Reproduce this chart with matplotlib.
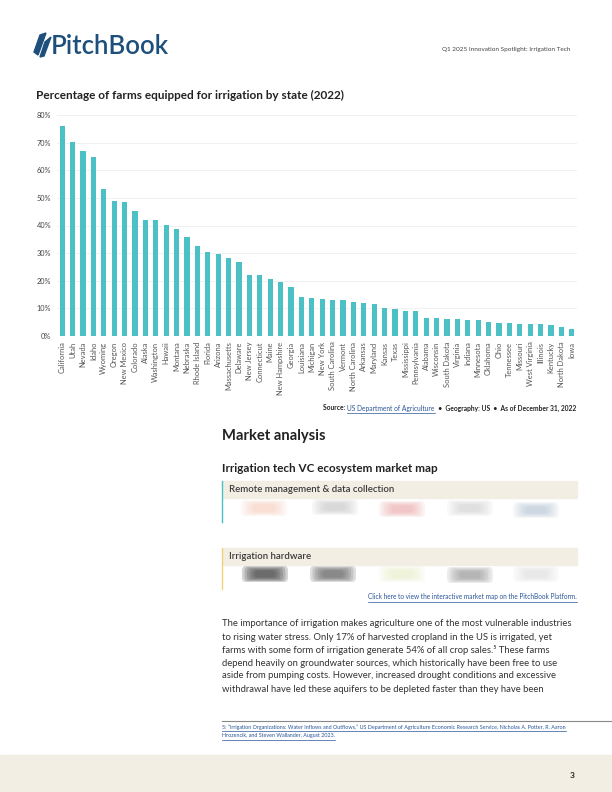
import matplotlib
matplotlib.use('Agg')
import matplotlib.pyplot as plt
from matplotlib.patches import Rectangle, Polygon, Ellipse, FancyBboxPatch
from matplotlib.lines import Line2D

plt.rcParams['font.family'] = ['Lato', 'DejaVu Sans']

# ---- data ----
states = ['California', 'Utah', 'Nevada', 'Idaho', 'Wyoming', 'Oregon', 'New Mexico',
          'Colorado', 'Alaska', 'Washington', 'Hawaii', 'Montana', 'Nebraska',
          'Rhode Island', 'Florida', 'Arizona', 'Massachusetts', 'Delaware',
          'New Jersey', 'Connecticut', 'Maine', 'New Hampshire', 'Georgia',
          'Louisiana', 'Michigan', 'New York', 'South Carolina', 'Vermont',
          'North Carolina', 'Arkansas', 'Maryland', 'Kansas', 'Texas', 'Mississippi',
          'Pennsylvania', 'Alabama', 'Wisconsin', 'South Dakota', 'Virginia',
          'Indiana', 'Minnesota', 'Oklahoma', 'Ohio', 'Tennessee', 'Missouri',
          'West Virginia', 'Illinois', 'Kentucky', 'North Dakota', 'Iowa']
pct_irrigated = [76.0, 70.3, 66.9, 64.8, 53.1, 48.9, 48.4, 45.1, 42.1, 42.1, 40.2, 38.8,
                 35.7, 32.7, 30.3, 29.8, 28.3, 26.7, 22.2, 22.1, 20.7, 19.4, 17.9,
                 14.1, 13.8, 13.3, 13.0, 13.0, 12.2, 12.1, 11.5, 10.1, 9.8, 8.9, 8.9,
                 6.6, 6.4, 6.2, 6.2, 5.8, 5.8, 5.0, 4.7, 4.7, 4.5, 4.2, 4.2, 4.0, 3.3, 2.4]
y_ticks = [0, 10, 20, 30, 40, 50, 60, 70, 80]

W, H = 612, 792
NAVY = '#1d4f7c'
TEAL = '#4cc1c5'
LINK = '#2a5599'
BEIGE = '#f2eee4'
TXT = '#333333'

fig = plt.figure(figsize=(W / 100, H / 100), dpi=100)


def fx(x):
    return x / W


def fy(y):
    return 1 - y / H


def txt(x, y, s, **kw):
    return fig.text(fx(x), fy(y), s, **kw)


# ---- header ----
txt(51, 46, 'PitchBook', fontsize=18.5, fontweight='semibold', color=NAVY, va='center', ha='left')
fig.patches.append(Polygon([(fx(34), fy(52)), (fx(40), fy(35)), (fx(46), fy(33)), (fx(38), fy(55))],
                           closed=True, color=NAVY, transform=fig.transFigure))
fig.patches.append(Polygon([(fx(40), fy(57)), (fx(45), fy(42)), (fx(51), fy(37)), (fx(44), fy(56))],
                           closed=True, color=NAVY, transform=fig.transFigure))
txt(570, 50, 'Q1 2025 Innovation Spotlight: Irrigation Tech', fontsize=4.6, color='#444444',
    ha='right', va='center')

txt(36, 95, 'Percentage of farms equipped for irrigation by state (2022)', fontsize=8.5,
    fontweight='bold', color='#222222', va='center')

# ---- chart ----
ax = fig.add_axes([fx(57), fy(336), fx(577) - fx(57), fy(115) - fy(336)])
xs = range(len(states))
ax.bar(xs, pct_irrigated, width=0.5, color=TEAL, zorder=2)
ax.set_xlim(-0.5, len(states) - 0.5)
ax.set_ylim(0, 80)
ax.set_yticks(y_ticks)
ax.set_yticklabels([f'{v}%' for v in y_ticks], fontsize=5.3, color='#444444')
ax.set_xticks(list(xs))
ax.set_xticklabels(states, rotation=90, fontsize=5.4, color='#555555')
ax.tick_params(length=0, pad=4)
ax.grid(axis='y', color='#eeeeee', linewidth=0.6, zorder=0)
for sp in ax.spines.values():
    sp.set_visible(False)

# ---- source line ----
fig.canvas.draw()
rend = fig.canvas.get_renderer()


def underline(t, color, dy=1.2):
    bb = t.get_window_extent(rend)
    y = bb.y0 - dy
    fig.lines.append(Line2D([bb.x0 / W, bb.x1 / W], [y / H, y / H], color=color,
                            linewidth=0.5, transform=fig.transFigure))


def chain(x_right, y, parts, fs):
    made = []
    for s, col, weight, link in parts:
        t = txt(0, y, s, fontsize=fs, color=col, fontweight=weight, va='center', ha='left')
        made.append((t, link, col))
    total = sum(t.get_window_extent(rend).width for t, _, _ in made)
    cur = x_right - total
    for t, link, col in made:
        t.set_x(fx(cur))
        cur += t.get_window_extent(rend).width
        if link:
            underline(t, col)


chain(576, 408, [('Source: ', '#222222', 'bold', False),
                 ('US Department of Agriculture', LINK, 'normal', True),
                 ('  \u2022  Geography: US  \u2022  As of December 31, 2022', '#222222', 'bold', False)], 4.8)

# ---- market analysis ----
txt(222, 436, 'Market analysis', fontsize=10.6, fontweight='bold', color='#222222', va='center')
txt(222, 468, 'Irrigation tech VC ecosystem market map', fontsize=8.4, fontweight='bold',
    color='#222222', va='center')

boxes = [('Remote management & data collection', 481, TEAL),
         ('Irrigation hardware', 548, '#f0d27a')]
for label, top, edge in boxes:
    fig.patches.append(Rectangle((fx(223), fy(top + 17)), fx(577) - fx(223), 17 / H,
                                 color=BEIGE, transform=fig.transFigure, zorder=0))
    fig.lines.append(Line2D([fx(222), fx(222)], [fy(top), fy(top + 41)], color=edge,
                            linewidth=1.0, transform=fig.transFigure))
    txt(229, top + 8.5, label, fontsize=6.9, fontweight='semibold', color='#3a3a3a', va='center')

# blurred logos
blobs = [(264, 508, '#f2b89a', 0.35), (335, 507, '#aaaaaa', 0.35), (402, 509, '#e88a8a', 0.4),
         (470, 508, '#b0b0b0', 0.3), (536, 510, '#8fa6c0', 0.35),
         (265, 574, '#4a4a4a', 0.95), (333, 574, '#666666', 0.85), (402, 574, '#e6eec0', 0.5),
         (470, 575, '#8a8a8a', 0.6), (536, 574, '#cccccc', 0.35)]
for cx, cy, col, a in blobs:
    for k in range(6):
        w = 46 - k * 5
        h = 16 - k * 1.8
        fig.patches.append(FancyBboxPatch((fx(cx - w / 2), fy(cy + h / 2)), w / W, h / H,
                                          boxstyle='round,pad=0,rounding_size=0.006',
                                          color=col, alpha=a / 4, linewidth=0,
                                          transform=fig.transFigure))

t = txt(577, 597, 'Click here to view the interactive market map on the PitchBook Platform.',
        fontsize=4.7, color=LINK, ha='right', va='center')
underline(t, LINK)

# ---- paragraph ----
para = ['The importance of irrigation makes agriculture one of the most vulnerable industries',
        'to rising water stress. Only 17% of harvested cropland in the US is irrigated, yet',
        'farms with some form of irrigation generate 54% of all crop sales.\u2075 These farms',
        'depend heavily on groundwater sources, which historically have been free to use',
        'aside from pumping costs. However, increased drought conditions and excessive',
        'withdrawal have led these aquifers to be depleted faster than they have been']
for i, line in enumerate(para):
    txt(222, 624 + i * 13, line, fontsize=6.85, color=TXT, va='center')

# ---- footnote ----
fig.lines.append(Line2D([fx(222), 1], [fy(721), fy(721)], color='#888888', linewidth=0.8,
                        transform=fig.transFigure))
fn = ['5: \u201cIrrigation Organizations: Water Inflows and Outflows,\u201d US Department of Agriculture '
      'Economic Research Service, Nicholas A. Potter, R. Aaron',
      'Hrozencik, and Steven Wallander, August 2023.']
for i, line in enumerate(fn):
    t = txt(222, 727 + i * 9, line, fontsize=3.85, color=LINK, va='center')
    underline(t, LINK, dy=1.0)

# ---- footer ----
fig.patches.append(Rectangle((0, 0), 1, 37 / H, color=BEIGE, transform=fig.transFigure, zorder=0))
txt(572, 775, '3', fontsize=6, fontweight='bold', color='#222222', va='center', ha='center')

fig.savefig('out.png', dpi=100)
